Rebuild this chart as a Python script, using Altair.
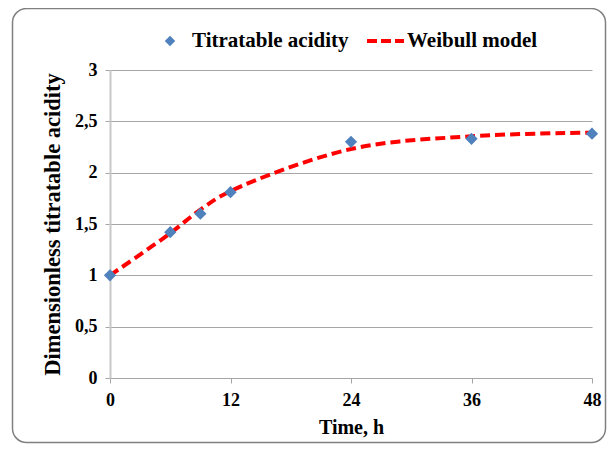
import altair as alt
import pandas as pd

# ---- data ----
time_obs = [0, 6, 9, 12, 24, 36, 48]
acid_obs = [1.0, 1.42, 1.60, 1.81, 2.30, 2.33, 2.38]
time_model = [0, 6, 9, 12, 24, 36, 48]
acid_model = [1.0, 1.41, 1.64, 1.82, 2.23, 2.355, 2.39]
x_ticks = [0, 12, 24, 36, 48]
y_ticks = [0, 0.5, 1, 1.5, 2, 2.5, 3]
legend_labels = ["Titratable acidity", "Weibull model"]

obs = pd.DataFrame({"t": time_obs, "v": acid_obs})
model = pd.DataFrame({"t": time_model, "v": acid_model})
one = pd.DataFrame({"k": [0]})

FONT = "Liberation Serif"
BLUE = "#4F81BD"
RED = "#FF0000"
GRID = "#A6A6A6"

x_enc = alt.X(
    "t:Q",
    scale=alt.Scale(domain=[0, 48], nice=False, zero=False),
    axis=alt.Axis(
        values=x_ticks, title="Time, h", grid=False, labelFlush=False,
        domainColor=GRID, tickColor=GRID, tickSize=5,
        labelFont=FONT, labelFontSize=18, labelFontWeight="bold", labelColor="black",
        labelPadding=8, titleFont=FONT, titleFontSize=20, titleFontWeight="bold",
        titleColor="black", titlePadding=8,
    ),
)
y_enc = alt.Y(
    "v:Q",
    scale=alt.Scale(domain=[0, 3], nice=False),
    axis=alt.Axis(
        values=y_ticks, title="Dimensionless titratable acidity", labelFlush=False,
        grid=True, gridColor=GRID, gridWidth=1,
        domainColor="#C8C8C8", domainWidth=2, tickColor=GRID, tickSize=5,
        labelExpr="replace(toString(datum.value), '.', ',')",
        labelFont=FONT, labelFontSize=18, labelFontWeight="bold", labelColor="black",
        labelPadding=8, titleFont=FONT, titleFontSize=22.5, titleFontWeight="bold",
        titleColor="black", titlePadding=10,
    ),
)

line = alt.Chart(model).mark_line(
    color=RED, strokeWidth=4, strokeDash=[10, 5], interpolate="catmull-rom"
).encode(x=x_enc, y=y_enc)

pts = alt.Chart(obs).mark_point(
    shape="diamond", filled=True, color=BLUE, size=150, opacity=1
).encode(x="t:Q", y="v:Q")

# frame around the chart (decoration)
frame = alt.Chart(one).mark_rect(
    filled=False, stroke="#808080", strokeWidth=1.5, cornerRadius=14
).encode(x=alt.value(-97.5), x2=alt.value(495.5), y=alt.value(-61.5), y2=alt.value(372.5))

# manual legend
leg_pt = alt.Chart(one).mark_point(
    shape="diamond", filled=True, color=BLUE, size=110, opacity=1
).encode(x=alt.value(60), y=alt.value(-29))
leg_t1 = alt.Chart(one).mark_text(
    text=legend_labels[0], font=FONT, fontSize=21, fontWeight="bold",
    align="left", baseline="middle", color="black"
).encode(x=alt.value(82), y=alt.value(-29))
leg_ln = alt.Chart(one).mark_rule(
    color=RED, strokeWidth=4, strokeDash=[10, 4]
).encode(x=alt.value(257), x2=alt.value(294), y=alt.value(-29))
leg_t2 = alt.Chart(one).mark_text(
    text=legend_labels[1], font=FONT, fontSize=21, fontWeight="bold",
    align="left", baseline="middle", color="black"
).encode(x=alt.value(297), y=alt.value(-29))

chart = alt.layer(line, pts, frame, leg_pt, leg_t1, leg_ln, leg_t2).properties(
    width=482, height=308,
    autosize=alt.AutoSizeParams(type="none"),
    padding={"left": 102, "top": 62, "right": 15, "bottom": 66},
    background="white",
).configure_view(strokeWidth=0)

chart.save("out.html", embed_options={"renderer": "svg", "actions": False})
